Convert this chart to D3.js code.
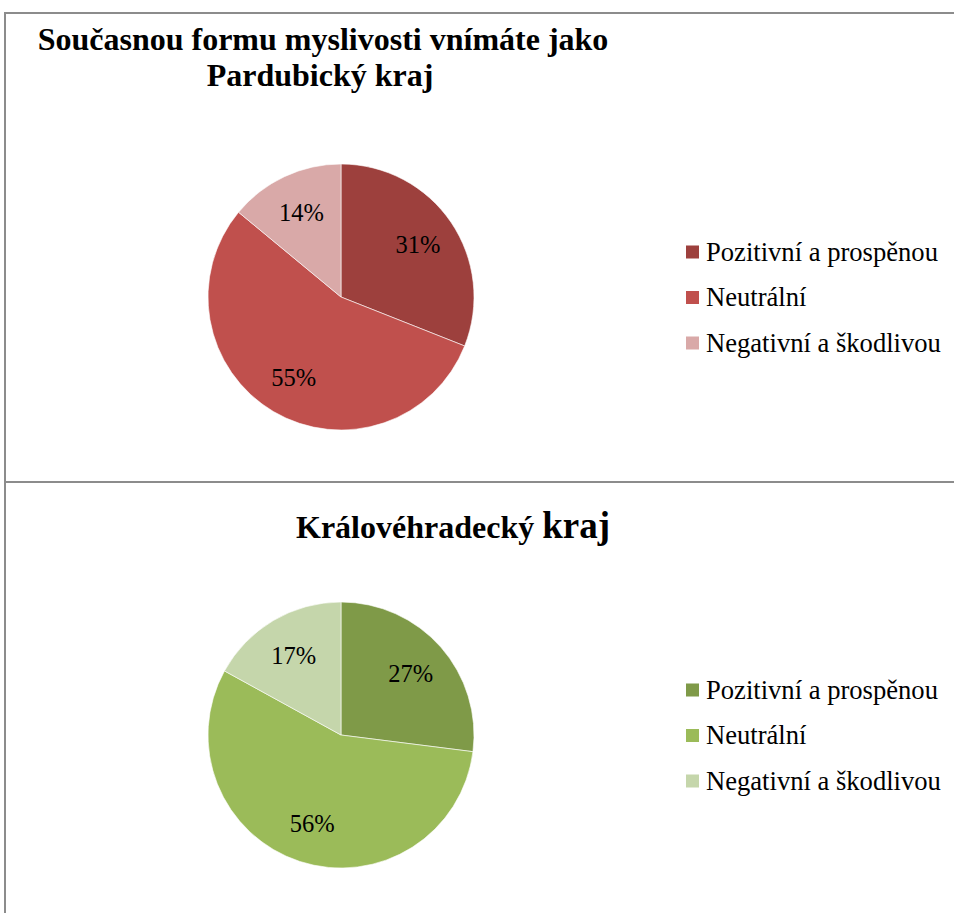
<!DOCTYPE html>
<html>
<head>
<meta charset="utf-8">
<script src="https://cdn.jsdelivr.net/npm/d3@7"></script>
<style>
  html, body { margin: 0; padding: 0; background: #fff; }
  svg { display: block; }
</style>
</head>
<body>
<svg id="chart" width="954" height="913"></svg>
<script>
// ---- data ----
const categories = ["Pozitivní a prospěnou", "Neutrální", "Negativní a škodlivou"];
const pardubiceValues = [31, 55, 14];
const hradecValues = [27, 56, 17];
const pardubiceColors = ["#9D403D", "#C0504D", "#D9A9A8"];
const hradecColors = ["#7F9A48", "#9BBB59", "#C5D6AB"];
const pardubiceTitle = ["Současnou formu myslivosti vnímáte jako", "Pardubický kraj"];
const hradecTitle = ["Královéhradecký", "kraj"];

const svg = d3.select("#chart");
const serif = "'Liberation Serif', 'Times New Roman', serif";

// frame
const frame = svg.append("g").attr("stroke", "#8c8c8c").attr("stroke-width", 2).attr("fill", "none");
frame.append("line").attr("x1", 4).attr("x2", 954).attr("y1", 13).attr("y2", 13);
frame.append("line").attr("x1", 5).attr("x2", 5).attr("y1", 12).attr("y2", 913);
frame.append("line").attr("x1", 4).attr("x2", 954).attr("y1", 482).attr("y2", 482);

const R = 133;
const pie = d3.pie().sort(null).value(d => d);
const arc = d3.arc().innerRadius(0).outerRadius(R);
const labelArc = d3.arc().innerRadius(93).outerRadius(93);

function drawPie(cx, cy, values, colors, legendY) {
  const color = d3.scaleOrdinal().domain(categories).range(colors);
  const g = svg.append("g").attr("transform", `translate(${cx},${cy})`);
  const arcs = pie(values);
  g.selectAll("path").data(arcs).join("path")
    .attr("d", arc)
    .attr("fill", (d, i) => color(categories[i]))
    .attr("stroke", "#ffffff")
    .attr("stroke-width", 0.6);
  g.selectAll("text").data(arcs).join("text")
    .attr("transform", d => `translate(${labelArc.centroid(d)})`)
    .attr("text-anchor", "middle")
    .attr("dy", "0.35em")
    .attr("font-family", serif)
    .attr("font-size", 24.5)
    .attr("fill", "#000")
    .text(d => d.data + "%");

  const lg = svg.append("g").attr("transform", `translate(686,${legendY})`);
  const rows = lg.selectAll("g").data(categories).join("g")
    .attr("transform", (d, i) => `translate(0,${i * 45.5})`);
  rows.append("rect").attr("x", 0).attr("y", -6.5).attr("width", 13).attr("height", 13)
    .attr("fill", d => color(d));
  rows.append("text").attr("x", 20).attr("y", 0).attr("dy", "0.33em")
    .attr("font-family", serif).attr("font-size", 26.6).attr("fill", "#000")
    .text(d => d);
}

// top title
svg.append("text").attr("x", 323).attr("y", 50).attr("text-anchor", "middle")
  .attr("font-family", serif).attr("font-weight", "bold").attr("font-size", 32)
  .text(pardubiceTitle[0]);
svg.append("text").attr("x", 320).attr("y", 86).attr("text-anchor", "middle")
  .attr("font-family", serif).attr("font-weight", "bold").attr("font-size", 32)
  .text(pardubiceTitle[1]);

// bottom title
const t2 = svg.append("text").attr("x", 296).attr("y", 538)
  .attr("font-family", serif).attr("font-weight", "bold");
t2.append("tspan").attr("font-size", 32).text(hradecTitle[0] + " ");
t2.append("tspan").attr("font-size", 37).text(hradecTitle[1]);

drawPie(341, 297, pardubiceValues, pardubiceColors, 252);
drawPie(341, 735, hradecValues, hradecColors, 690);
</script>
</body>
</html>
